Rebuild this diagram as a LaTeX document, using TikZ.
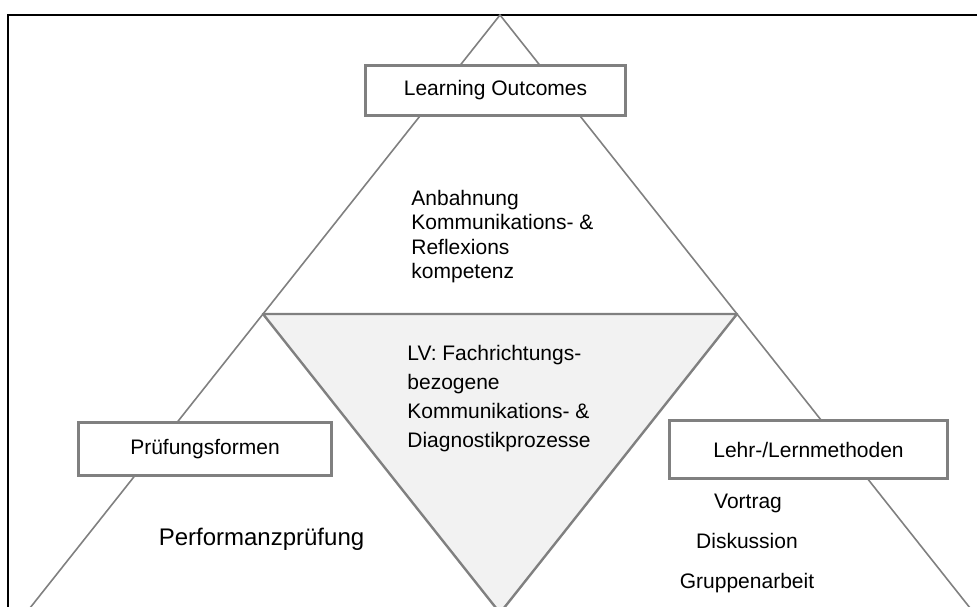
\documentclass[tikz,border=0pt]{standalone}
\usepackage{fontspec}
\setmainfont{Liberation Sans}
\usepackage{tikz}
\usepackage{tkz-euclide}

\definecolor{rimgray}{RGB}{128,128,128}
\definecolor{corefill}{RGB}{242,242,242}

\begin{document}
\begin{tikzpicture}[x=25pt, y=25pt,
        font=\fontsize{10.5}{12.6}\selectfont,
        labelbox/.style={draw=rimgray, line width=1.5pt, fill=white, inner sep=0pt},
        plain/.style={inner sep=0pt}]
                \useasboundingbox (0,0) rectangle (19.54,12.12);
                \clip (0,0) rectangle (19.54,12.12);
                \draw[black, line width=0.6pt] (0.16,-1) rectangle (21,11.82);
                \tkzDefPoints{10/11.82/A, 0.52/-0.14/B, 19.48/-0.14/C}
                \tkzDefMidPoint(A,B) \tkzGetPoint{D}
                \tkzDefMidPoint(A,C) \tkzGetPoint{E}
                \tkzDefMidPoint(B,C) \tkzGetPoint{F}
                \tkzDrawPolygon[draw=rimgray, line width=0.8pt](A,B,C)
                \tkzDrawPolygon[draw=rimgray, fill=corefill, line width=1.2pt](D,E,F)
                \node[labelbox, minimum width=130pt, minimum height=25pt] (lo) at (9.91,10.31) {Learning Outcomes};
                \node[labelbox, minimum width=126.5pt, minimum height=26.5pt] (pf) at (4.10,3.14) {Prüfungsformen};
                \node[labelbox, minimum width=139pt, minimum height=29pt] (lm) at (16.17,3.13) {Lehr-/Lernmethoden};
                \node[plain, anchor=north west, align=left, font=\fontsize{10.5}{12.15}\selectfont] (anb) at (8.22,8.32) {Anbahnung\\Kommunikations- \&\\Reflexions\\kompetenz};
                \node[plain, anchor=north west, align=left, font=\fontsize{10.5}{14.5}\selectfont] (lv) at (8.14,5.22) {LV: Fachrichtungs-\\bezogene\\Kommunikations- \&\\Diagnostikprozesse};
                \node[plain, anchor=base, font=\fontsize{12}{14}\selectfont] (perf) at (5.23,1.22) {Performanzprüfung};
                \node[plain, anchor=base] (vor) at (14.96,1.96) {Vortrag};
                \node[plain, anchor=base] (dis) at (14.94,1.16) {Diskussion};
                \node[plain, anchor=base] (gru) at (14.94,0.36) {Gruppenarbeit};
            \end{tikzpicture}
\end{document}
